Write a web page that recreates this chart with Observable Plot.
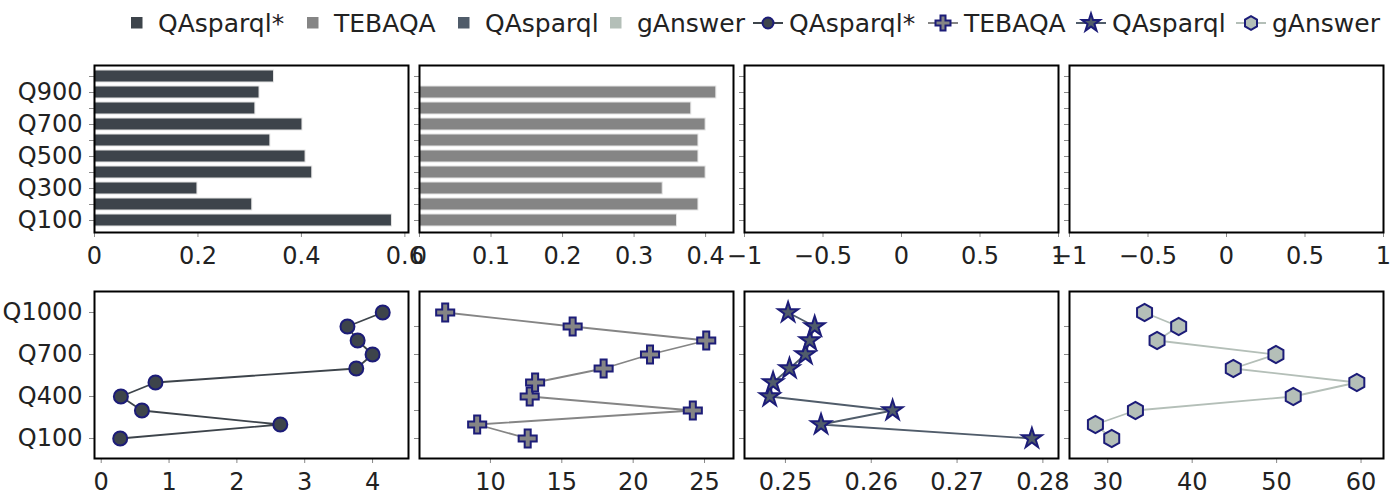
<!DOCTYPE html>
<html>
<head>
<meta charset="utf-8">
<script src="https://cdn.jsdelivr.net/npm/d3@7"></script>
<script src="https://cdn.jsdelivr.net/npm/@observablehq/plot@0.6"></script>
<style>
  body { margin: 0; background: #fff; font-family: "DejaVu Sans", sans-serif; }
  #chart { position: relative; width: 1400px; height: 500px; overflow: hidden; background: #fff; }
  .legend-item { position: absolute; top: 0; height: 46px; display: flex; align-items: center; font-size: 25px; color: #222; white-space: nowrap; }
  .legend-item svg { display: block; }
</style>
</head>
<body>
<div id="chart"></div>
<script>
// ---------------- data ----------------
const categories = ["Q100", "Q200", "Q300", "Q400", "Q500", "Q600", "Q700", "Q800", "Q900", "Q1000"];
const seriesNames = ["QAsparql*", "TEBAQA", "QAsparql", "gAnswer"];
const seriesColors = ["#3d444b", "#858585", "#505c6a", "#b4bfb8"];
const markerSymbols = ["circle", "cross", "star", "hexagon"];

// top row: horizontal bars (value per category, null = no bar)
const barQAsparqlStar = [0.575, 0.305, 0.199, 0.421, 0.408, 0.340, 0.402, 0.311, 0.319, 0.347];
const barTEBAQA       = [0.360, 0.390, 0.340, 0.400, 0.390, 0.390, 0.400, 0.380, 0.415, null];
const barQAsparql     = [null, null, null, null, null, null, null, null, null, null];
const barGAnswer      = [null, null, null, null, null, null, null, null, null, null];

// bottom row: lines with markers
const lineQAsparqlStar = [0.28, 2.64, 0.60, 0.29, 0.80, 3.76, 4.00, 3.78, 3.63, 4.15];
const lineTEBAQA       = [12.61, 9.07, 24.18, 12.75, 13.13, 17.93, 21.18, 25.12, 15.76, 6.83];
const lineQAsparql     = [0.27872, 0.25415, 0.26249, 0.24817, 0.24856, 0.25047, 0.25233, 0.25283, 0.25341, 0.25031];
const lineGAnswer      = [30.47, 28.54, 33.28, 51.97, 59.50, 44.87, 49.92, 35.84, 38.40, 34.36];

// tick labels
const topXTicks = [[0, 0.2, 0.4, 0.6], [0, 0.1, 0.2, 0.3, 0.4], [-1, -0.5, 0, 0.5, 1], [-1, -0.5, 0, 0.5, 1]];
const bottomXTicks = [[0, 1, 2, 3, 4], [10, 15, 20, 25], [0.25, 0.26, 0.27, 0.28], [30, 40, 50, 60]];
const topYLabels = ["Q100", "Q300", "Q500", "Q700", "Q900"];
const bottomYLabels = ["Q100", "Q400", "Q700", "Q1000"];
const bottomYTicksOther = ["Q100", "Q300", "Q500", "Q700", "Q900"];

// ---------------- layout ----------------
const topBars = [barQAsparqlStar, barTEBAQA, barQAsparql, barGAnswer];
const bottomLines = [lineQAsparqlStar, lineTEBAQA, lineQAsparql, lineGAnswer];
const topXDomains = [[0, 0.607], [0, 0.439], [-1, 1], [-1, 1]];
const bottomXDomains = [[-0.099, 4.53], [5.03, 27.03], [0.24523, 0.28182], [25.47, 62.66]];
const symbolRadius = {circle: 7, cross: 7.6, star: 6.3, hexagon: 7.5};
const navy = "#1c1c78";
const textColor = "#222";
const tickColor = "#888";

const frameLefts = [94, 419, 744, 1069], frameW = 314;
const frameTops = [65, 291], frameH = 167;
const catsRev = categories.slice().reverse();
const chart = document.getElementById("chart");

const fmt = d => (d < 0 ? "\u2212" : "") + String(Math.abs(d));

function place(svg, row, col, mL, mT) {
  svg.style.position = "absolute";
  svg.style.left = (frameLefts[col] - mL) + "px";
  svg.style.top = (frameTops[row] - mT) + "px";
  svg.style.maxWidth = "none";
  chart.appendChild(svg);
}

for (let row = 0; row < 2; row++) {
  for (let col = 0; col < 4; col++) {
    const mL = col === 0 ? 94 : 20, mR = 20, mT = 10, mB = 45;
    const marks = [];
    let yScale;
    if (row === 0) {
      const data = categories.map((c, i) => ({cat: c, value: topBars[col][i]})).filter(d => d.value != null);
      yScale = {type: "band", domain: catsRev, paddingInner: 0.24, paddingOuter: 0.12};
      marks.push(Plot.barX(data, {x: "value", y: "cat", fill: seriesColors[col], stroke: "#e4e4e4", strokeWidth: 1}));
      marks.push(Plot.axisY({
        ticks: categories,
        tickFormat: col === 0 ? (d => topYLabels.includes(d) ? d : "") : (() => ""),
        tickSize: 5, tickPadding: 7, stroke: tickColor, fill: textColor, label: null, fontSize: 24
      }));
      marks.push(Plot.axisX({
        ticks: topXTicks[col], tickFormat: fmt, tickSize: 5, tickPadding: 9,
        stroke: tickColor, fill: textColor, label: null, fontSize: 24
      }));
    } else {
      const data = categories.map((c, i) => ({cat: c, value: bottomLines[col][i]}));
      yScale = {type: "point", domain: catsRev, padding: 1.25};
      marks.push(Plot.line(data, {x: "value", y: "cat", stroke: seriesColors[col], strokeWidth: 1.8}));
      marks.push(Plot.dot(data, {
        x: "value", y: "cat", symbol: markerSymbols[col], r: symbolRadius[markerSymbols[col]],
        fill: seriesColors[col], stroke: navy, strokeWidth: 2
      }));
      marks.push(Plot.axisY({
        ticks: col === 0 ? bottomYLabels : bottomYTicksOther,
        tickFormat: col === 0 ? (d => d) : (() => ""),
        tickSize: 5, tickPadding: 7, stroke: tickColor, fill: textColor, label: null, fontSize: 24
      }));
      marks.push(Plot.axisX({
        ticks: bottomXTicks[col], tickFormat: fmt, tickSize: 5, tickPadding: 9,
        stroke: tickColor, fill: textColor, label: null, fontSize: 24
      }));
    }
    marks.push(Plot.frame({stroke: "black", strokeWidth: 2}));
    const svg = Plot.plot({
      width: mL + frameW + mR,
      height: mT + frameH + mB,
      marginLeft: mL, marginRight: mR, marginTop: mT, marginBottom: mB,
      x: {domain: row === 0 ? topXDomains[col] : bottomXDomains[col]},
      y: yScale,
      style: {fontSize: "24px", fontFamily: "DejaVu Sans", background: "transparent", overflow: "visible", color: textColor},
      marks
    });
    place(svg, row, col, mL, mT);
  }
}

// ---------------- legend ----------------
const barLegendLefts = [131, 307, 458, 610];
const lineLegendLefts = [753, 928, 1076, 1236];
const hexagon = {
  draw(context, size) {
    const rx = Math.sqrt(size / Math.PI), ry = rx * 2 / Math.sqrt(3), hy = ry / 2;
    context.moveTo(0, ry); context.lineTo(rx, hy); context.lineTo(rx, -hy);
    context.lineTo(0, -ry); context.lineTo(-rx, -hy); context.lineTo(-rx, hy); context.closePath();
  }
};
const legendSymbols = {
  circle: [d3.symbolCircle, 95],
  cross: [d3.symbolCross, 125],
  star: [d3.symbolStar, 100],
  hexagon: [hexagon, 113]
};

seriesNames.forEach((name, i) => {
  const item = d3.select(chart).append("div").attr("class", "legend-item").style("left", barLegendLefts[i] + "px");
  const s = item.append("svg").attr("width", 12).attr("height", 12).style("margin-right", "15px");
  s.append("rect").attr("width", 11.5).attr("height", 11.5).attr("fill", seriesColors[i]);
  item.append("span").text(name);
});
seriesNames.forEach((name, i) => {
  const item = d3.select(chart).append("div").attr("class", "legend-item").style("left", lineLegendLefts[i] + "px");
  const s = item.append("svg").attr("width", 30).attr("height", 24).style("margin-right", "6px").style("overflow", "visible");
  s.append("line").attr("x1", 0).attr("x2", 30).attr("y1", 12).attr("y2", 12).attr("stroke", seriesColors[i]).attr("stroke-width", 2);
  const [type, size] = legendSymbols[markerSymbols[i]];
  s.append("path").attr("d", d3.symbol(type, size)()).attr("transform", "translate(15,12)")
    .attr("fill", seriesColors[i]).attr("stroke", navy).attr("stroke-width", 2);
  item.append("span").text(name);
});
</script>
</body>
</html>
